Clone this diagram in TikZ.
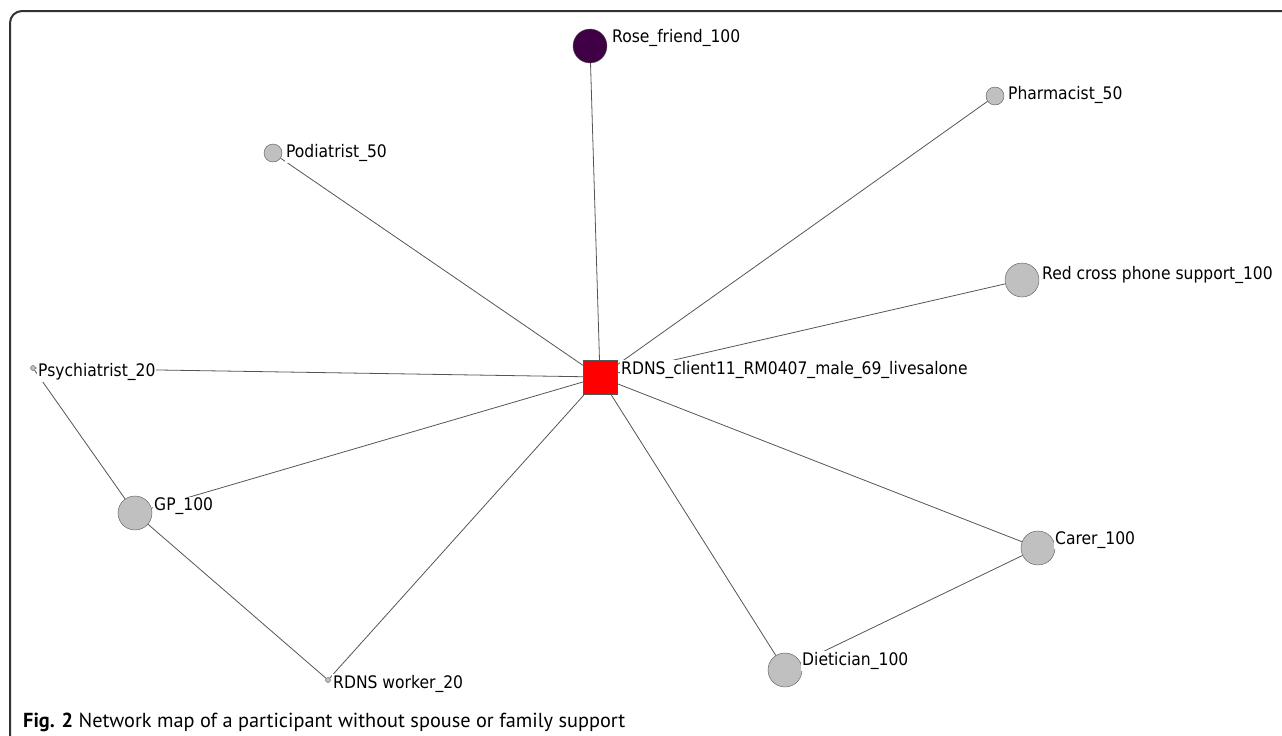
\documentclass[tikz,border=0pt]{standalone}
\usepackage{fontspec}
\setmainfont{DejaVu Sans Condensed}
\newfontfamily\capfont{PT Sans}
\usetikzlibrary{positioning}

\definecolor{roseFill}{RGB}{64,0,70}
\definecolor{actorFill}{RGB}{192,192,192}
\definecolor{tieGray}{RGB}{85,85,85}
\definecolor{frameGray}{RGB}{50,50,50}

\begin{document}
\begin{tikzpicture}[x=1pt,y=-1pt]
		\tikzstyle{big} = [circle, draw=tieGray, fill=actorFill, minimum size=34pt, inner sep=0pt]
		\tikzstyle{mid} = [circle, draw=tieGray, fill=actorFill, minimum size=18pt, inner sep=0pt]
		\tikzstyle{tiny} = [circle, draw=tieGray, fill=actorFill, minimum size=5pt, inner sep=0pt]
		\tikzstyle{ego} = [rectangle, draw=tieGray, fill=red, minimum size=34pt, inner sep=0pt]
		\tikzstyle{tag} = [fill=white, inner sep=1pt, anchor=west, font=\fontsize{17.3}{18}\selectfont]
		\tikzstyle{tie} = [draw=tieGray, line width=0.8pt]
		\useasboundingbox (0,0) rectangle (1282,736);
		% frame
		\draw [frameGray, line width=2pt, rounded corners=12pt] (10,745) -- (10,11) -- (1290,11);
		% actors
		\node (client) [ego] at (600,377) {};
		\node (rose) [big, fill=roseFill] at (590,46) {};
		\node (pharmacist) [mid] at (995,96) {};
		\node (podiatrist) [mid] at (273,153) {};
		\node (redcross) [big] at (1022,280) {};
		\node (psychiatrist) [tiny] at (33,368) {};
		\node (gp) [big] at (135,513) {};
		\node (worker) [tiny] at (328,680) {};
		\node (dietician) [big] at (785,670) {};
		\node (carer) [big] at (1038,548) {};
		% ties
		\draw [tie] (client) -- (rose);
		\draw [tie] (client) -- (pharmacist);
		\draw [tie] (client) -- (podiatrist);
		\draw [tie] (client) -- (redcross);
		\draw [tie] (client) -- (psychiatrist);
		\draw [tie] (client) -- (gp);
		\draw [tie] (client) -- (worker);
		\draw [tie] (client) -- (dietician);
		\draw [tie] (client) -- (carer);
		\draw [tie] (psychiatrist) -- (gp);
		\draw [tie] (gp) -- (worker);
		\draw [tie] (dietician) -- (carer);
		% labels
		\node (clientTag) [tag] at (620,370) {RDNS\_client11\_RM0407\_male\_69\_livesalone};
		\node (roseTag) [tag] at (611,38) {Rose\_friend\_100};
		\node (pharmacistTag) [tag] at (1007,95) {Pharmacist\_50};
		\node (podiatristTag) [tag] at (285,153) {Podiatrist\_50};
		\node (redcrossTag) [tag] at (1041,275) {Red cross phone support\_100};
		\node (psychiatristTag) [tag] at (37,372) {Psychiatrist\_20};
		\node (gpTag) [tag] at (153,506) {GP\_100};
		\node (workerTag) [tag] at (332,684) {RDNS worker\_20};
		\node (dieticianTag) [tag] at (801,661) {Dietician\_100};
		\node (carerTag) [tag] at (1054,540) {Carer\_100};
		% caption
		\node (caption) [anchor=base west, inner sep=0pt, font=\capfont\fontsize{20.3}{21}\selectfont] at (23,727) {\textbf{Fig. 2} Network map of a participant without spouse or family support};
\end{tikzpicture}
\end{document}
